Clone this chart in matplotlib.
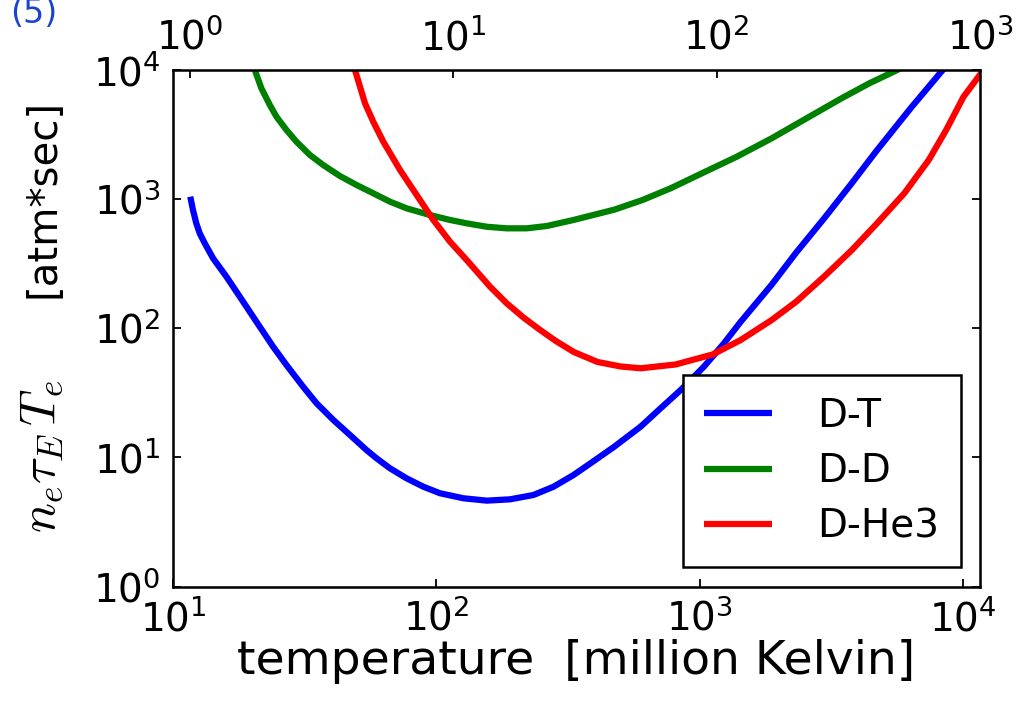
import matplotlib
matplotlib.use("Agg")
import matplotlib.pyplot as plt
from matplotlib.ticker import LogLocator, NullLocator

plt.rcParams['mathtext.fontset'] = 'cm'
plt.rcParams['font.family'] = ['DejaVu Sans']

# Temperature in million Kelvin, n_e*tau_E*T_e in atm*sec
dt_temp = [11.63, 11.91, 12.26, 12.63, 13.20, 14.19, 15.95, 17.93, 20.74, 24.0, 26.97,
           31.2, 35.1, 40.6, 47.0, 54.3, 59.3, 66.7, 77.1, 89.3, 103.3, 126.7, 155.4,
           190.6, 233.8, 278.6, 332, 385, 472, 597, 711, 847, 1038, 1237, 1432, 1878,
           2326, 2967, 3787, 4690, 6360, 8375, 9100]
dt_val = [1038, 819, 646, 541, 453, 347, 250, 175, 112, 71.8, 51.8,
          35.2, 26.2, 19.5, 14.9, 11.4, 9.84, 8.23, 6.89, 5.93, 5.28, 4.83, 4.63,
          4.74, 5.12, 5.93, 7.31, 9.00, 12.03, 17.3, 24.0, 33.2, 50.3, 76.3, 112, 217,
          384, 704, 1325, 2343, 5083, 9910, 12000]

dd_temp = [19.8, 20.45, 21.66, 23.32, 24.71, 26.97, 29.43, 33.10, 37.18, 43.03, 49.77,
           57.62, 66.68, 77.1, 94.6, 112.7, 130.4, 155.4, 185.0, 220.4, 262.7, 332,
           476, 607, 776, 1020, 1384, 1878, 2547, 3458, 4411, 5630, 6000]
dd_val = [11500, 9910, 7155, 5316, 4315, 3405, 2765, 2182, 1826, 1501, 1279,
          1103, 950, 844, 749, 686, 646, 608, 591, 591, 616, 686,
          826, 979, 1206, 1575, 2117, 2938, 4194, 5988, 7823, 9910, 10800]

dhe_temp = [48.5, 49.1, 51.3, 53.6, 57.6, 62.9, 72.8, 84.2, 97.4, 112.7, 130.4, 160.0,
            185.0, 214.2, 247.9, 283.5, 332.9, 409.5, 500.8, 597, 810, 1120, 1432, 1878,
            2326, 2967, 3787, 4690, 5986, 7413, 8632, 10050, 11710]
dhe_val = [11000, 9910, 7362, 5477, 3948, 2765, 1670, 1070, 686, 466, 336, 209,
           155.5, 120.8, 96.7, 79.8, 65.3, 54.7, 50.5, 48.9, 52.3, 62.5, 80.9, 115.5,
           160, 250, 402, 638, 1103, 1995, 3405, 6160, 9346]

labels = ['D-T', 'D-D', 'D-He3']
colors = ['#0000ff', '#008000', '#ff0000']

MK_PER_KEV = 11.6045
xlim = (10, 11604.5)
ylim = (1, 1e4)

W, H = 1021, 708
fig = plt.figure(figsize=(W / 100, H / 100), dpi=100)
ax = fig.add_axes([173/W, 1 - 586.7/H, (980 - 173)/W, (586.7 - 69.5)/H])

for xs, ys, lab, c in zip([dt_temp, dd_temp, dhe_temp], [dt_val, dd_val, dhe_val], labels, colors):
    ax.plot(xs, ys, color=c, lw=4.5, label=lab, solid_capstyle='butt', solid_joinstyle='round')

ax.set_xscale('log')
ax.set_yscale('log')
ax.set_xlim(*xlim)
ax.set_ylim(*ylim)
ax.xaxis.set_major_locator(LogLocator(base=10, numticks=10))
ax.yaxis.set_major_locator(LogLocator(base=10, numticks=10))
ax.xaxis.set_minor_locator(NullLocator())
ax.yaxis.set_minor_locator(NullLocator())
ax.tick_params(which='major', direction='in', length=6, width=1.3, labelsize=28,
               right=True, top=False, pad=9)
for s in ax.spines.values():
    s.set_linewidth(1.8)

ax.set_xlabel('temperature  [million Kelvin]', fontsize=34, labelpad=0)

# y-axis label: math part and unit part
fig.text(54/W, 1 - 533/H, r'$n_e\tau_E\,T_e$', fontsize=36, rotation=90,
         rotation_mode='anchor', ha='left', va='baseline')
fig.text(55/W, 1 - 298/H, '[atm*sec]', fontsize=29, rotation=90,
         rotation_mode='anchor', ha='left', va='baseline')

ax2 = ax.twiny()
ax2.set_xscale('log')
ax2.set_xlim(xlim[0] / MK_PER_KEV, xlim[1] / MK_PER_KEV)
ax2.xaxis.set_major_locator(LogLocator(base=10, numticks=10))
ax2.xaxis.set_minor_locator(NullLocator())
ax2.tick_params(which='major', direction='in', length=6, width=1.3, labelsize=28, pad=9)

leg = ax.legend(loc='lower right', fontsize=28, handlelength=1.75, handletextpad=1.15,
                borderpad=0.55, borderaxespad=0.5, labelspacing=0.45, fancybox=False,
                framealpha=1, edgecolor='black')
leg.get_frame().set_linewidth(1.8)

fig.text(10/W, 1 - 23/H, '(5)', fontsize=24, color='#1a44d0', ha='left', va='baseline')

fig.savefig('out.png', dpi=100)
